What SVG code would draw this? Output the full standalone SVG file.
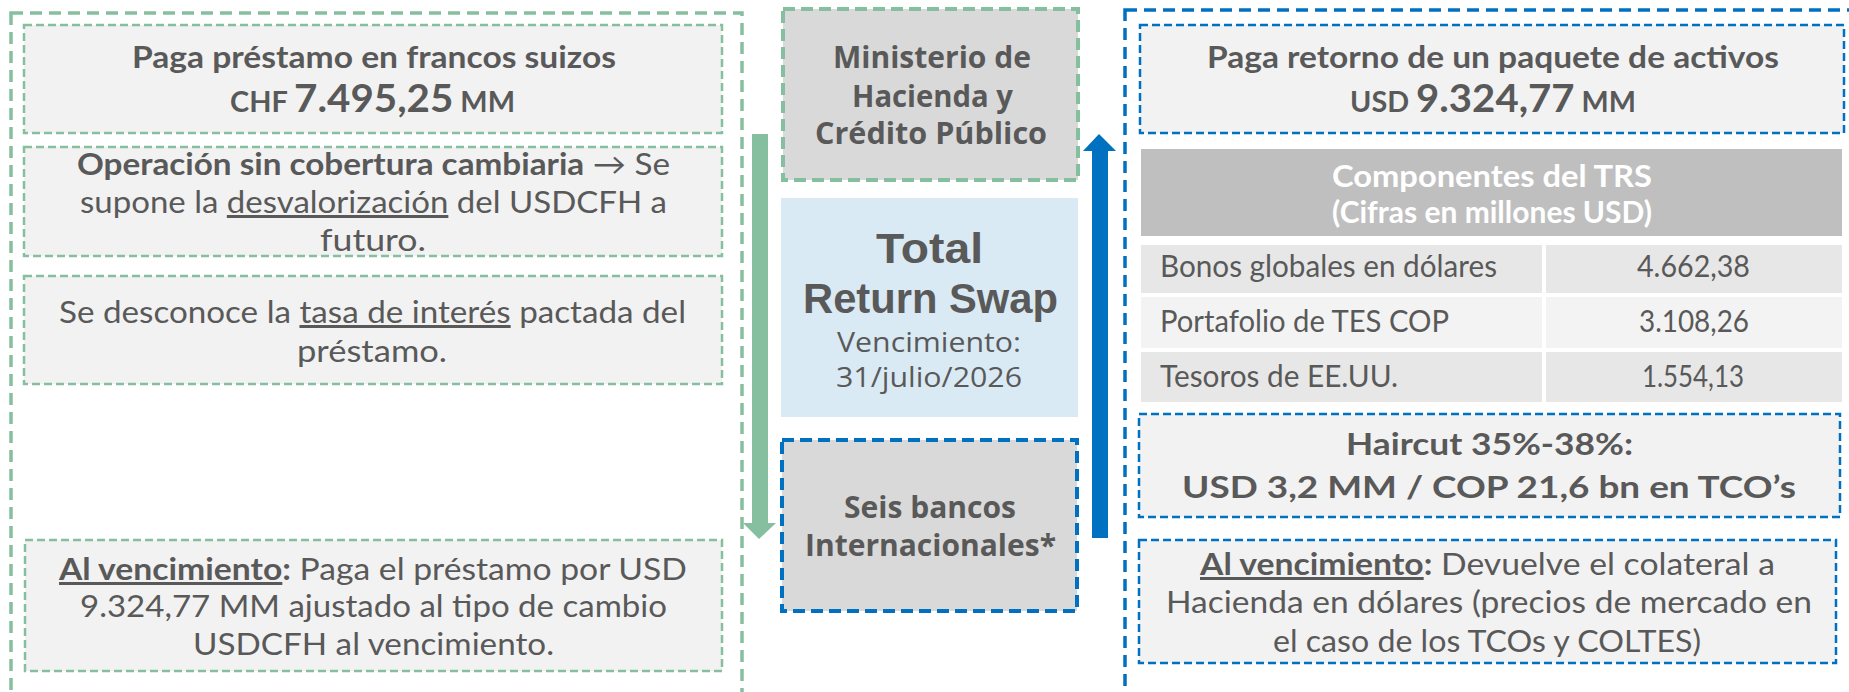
<svg xmlns="http://www.w3.org/2000/svg" width="1849" height="692" viewBox="0 0 1849 692">
<style>
.t{fill:#595959;font-family:Lato,"Noto Sans","Liberation Sans",sans-serif;font-size:30px}
.m{fill:#595959;font-family:"Open Sans","Noto Sans","Liberation Sans",sans-serif;font-weight:700}
.big{fill:#595959;font-family:"Liberation Sans",Arial,sans-serif;font-weight:700;font-size:43px}
.r{font-weight:400}
.b{font-weight:700}
.u{text-decoration:underline}
.w{fill:#ffffff}
.box{fill:#f2f2f2}
.gIn{stroke:#86bf9f;stroke-width:2.5;stroke-dasharray:8 4}
.bIn{stroke:#0070c0;stroke-width:2.5;stroke-dasharray:8 4}
.gOut{fill:none;stroke:#86bf9f;stroke-width:3.5;stroke-dasharray:12 7}
.bOut{fill:none;stroke:#0070c0;stroke-width:3.5;stroke-dasharray:12 7}
</style>
<g id="outer-left"><rect class="gOut" x="11" y="13" width="731" height="700"/></g>
<g id="outer-right"><rect class="bOut" x="1125" y="10" width="740" height="700"/></g>

<g id="left-pago-chf">
<rect class="box gIn" x="24" y="25" width="698" height="108"/>
<text class="t b" x="132" y="68" textLength="484" lengthAdjust="spacingAndGlyphs">Paga préstamo en francos suizos</text>
<text class="t b" x="230" y="112" textLength="285" lengthAdjust="spacingAndGlyphs"><tspan font-size="28">CHF </tspan><tspan font-size="39">7.495,25</tspan><tspan font-size="28"> MM</tspan></text>
</g>
<g id="left-cobertura">
<rect class="box gIn" x="24" y="147" width="698" height="109"/>
<text class="t" x="77" y="175" textLength="593" lengthAdjust="spacingAndGlyphs"><tspan class="b">Operación sin cobertura cambiaria</tspan> → Se</text>
<text class="t" x="80" y="213" textLength="587" lengthAdjust="spacingAndGlyphs">supone la <tspan class="u">desvalorización</tspan> del USDCFH a</text>
<text class="t" x="320" y="251" textLength="106" lengthAdjust="spacingAndGlyphs">futuro.</text>
</g>
<g id="left-tasa">
<rect class="box gIn" x="24" y="276" width="698" height="108"/>
<text class="t" x="59" y="323" textLength="627" lengthAdjust="spacingAndGlyphs">Se desconoce la <tspan class="u">tasa de interés</tspan> pactada del</text>
<text class="t" x="297" y="362" textLength="150" lengthAdjust="spacingAndGlyphs">préstamo.</text>
</g>
<g id="left-vencimiento">
<rect class="box gIn" x="25" y="540" width="697" height="131"/>
<text class="t" x="59" y="580" textLength="628" lengthAdjust="spacingAndGlyphs"><tspan class="b"><tspan class="u">Al vencimiento</tspan>:</tspan> Paga el préstamo por USD</text>
<text class="t" x="80" y="617" textLength="587" lengthAdjust="spacingAndGlyphs">9.324,77 MM ajustado al tipo de cambio</text>
<text class="t" x="193" y="655" textLength="361" lengthAdjust="spacingAndGlyphs">USDCFH al vencimiento.</text>
</g>

<g id="ministerio">
<rect x="783" y="9" width="295" height="171" fill="#d9d9d9" stroke="#86bf9f" stroke-width="4" stroke-dasharray="12 6"/>
<text class="m" font-size="30" x="833" y="68" textLength="198" lengthAdjust="spacingAndGlyphs">Ministerio de</text>
<text class="m" font-size="30" x="852" y="107" textLength="161" lengthAdjust="spacingAndGlyphs">Hacienda y</text>
<text class="m" font-size="30" x="815" y="144" textLength="232" lengthAdjust="spacingAndGlyphs">Crédito Público</text>
</g>
<g id="trs">
<rect x="781" y="198" width="297" height="219" fill="#daeaf4"/>
<text class="big" x="876" y="263" textLength="107" lengthAdjust="spacingAndGlyphs">Total</text>
<text class="big" x="803" y="313" textLength="255" lengthAdjust="spacingAndGlyphs">Return Swap</text>
<text class="m r" font-size="27" x="837" y="352" textLength="184" lengthAdjust="spacingAndGlyphs">Vencimiento:</text>
<text class="m r" font-size="27" x="836" y="387" textLength="186" lengthAdjust="spacingAndGlyphs">31/julio/2026</text>
</g>
<g id="bancos">
<rect x="782" y="440" width="295" height="171" fill="#d9d9d9" stroke="#0070c0" stroke-width="4" stroke-dasharray="12 6"/>
<text class="m" font-size="30" x="844" y="518" textLength="172" lengthAdjust="spacingAndGlyphs">Seis bancos</text>
<text class="m" font-size="30" x="805" y="556" textLength="251" lengthAdjust="spacingAndGlyphs">Internacionales*</text>
</g>

<g id="connectors">
<path d="M752,134 H768 V523 H776 L759,539 L743,523 H752 Z" fill="#86bf9f"/>
<path d="M1092,538 H1108 V151 H1116 L1099,134 L1083,151 H1092 Z" fill="#0070c0"/>
</g>

<g id="right-pago-usd">
<rect class="box bIn" x="1140" y="25" width="704" height="108"/>
<text class="t b" x="1207" y="68" textLength="572" lengthAdjust="spacingAndGlyphs">Paga retorno de un paquete de activos</text>
<text class="t b" x="1350" y="112" textLength="286" lengthAdjust="spacingAndGlyphs"><tspan font-size="28">USD </tspan><tspan font-size="39">9.324,77</tspan><tspan font-size="28"> MM</tspan></text>
</g>
<g id="tabla-trs">
<rect x="1141" y="149" width="701" height="87" fill="#bfbfbf"/>
<text class="t b w" x="1332" y="187" textLength="320" lengthAdjust="spacingAndGlyphs">Componentes del TRS</text>
<text class="t b w" x="1332" y="223" textLength="320" lengthAdjust="spacingAndGlyphs">(Cifras en millones USD)</text>
<rect x="1141" y="245" width="401" height="48" fill="#e7e7e7"/>
<rect x="1546" y="245" width="296" height="48" fill="#e7e7e7"/>
<rect x="1141" y="297" width="401" height="51" fill="#f3f3f3"/>
<rect x="1546" y="297" width="296" height="51" fill="#f3f3f3"/>
<rect x="1141" y="352" width="401" height="50" fill="#e7e7e7"/>
<rect x="1546" y="352" width="296" height="50" fill="#e7e7e7"/>
<text class="t" font-size="27" x="1160" y="277" textLength="337" lengthAdjust="spacingAndGlyphs">Bonos globales en dólares</text>
<text class="t" font-size="27" x="1637" y="277" textLength="113" lengthAdjust="spacingAndGlyphs">4.662,38</text>
<text class="t" font-size="27" x="1160" y="332" textLength="289" lengthAdjust="spacingAndGlyphs">Portafolio de TES COP</text>
<text class="t" font-size="27" x="1639" y="332" textLength="110" lengthAdjust="spacingAndGlyphs">3.108,26</text>
<text class="t" font-size="27" x="1160" y="387" textLength="238" lengthAdjust="spacingAndGlyphs">Tesoros de EE.UU.</text>
<text class="t" font-size="27" x="1642" y="387" textLength="102" lengthAdjust="spacingAndGlyphs">1.554,13</text>
</g>
<g id="haircut">
<rect class="box bIn" x="1139" y="414" width="701" height="103"/>
<text class="t b" x="1346" y="455" textLength="287" lengthAdjust="spacingAndGlyphs">Haircut 35%-38%:</text>
<text class="t b" font-size="34" x="1182" y="498" textLength="614" lengthAdjust="spacingAndGlyphs">USD 3,2 MM / COP 21,6 bn en TCO’s</text>
</g>
<g id="right-vencimiento">
<rect class="box bIn" x="1139" y="540" width="697" height="123"/>
<text class="t" x="1200" y="575" textLength="575" lengthAdjust="spacingAndGlyphs"><tspan class="b"><tspan class="u">Al vencimiento</tspan>:</tspan> Devuelve el colateral a</text>
<text class="t" x="1166" y="613" textLength="646" lengthAdjust="spacingAndGlyphs">Hacienda en dólares (precios de mercado  en</text>
<text class="t" x="1273" y="652" textLength="428" lengthAdjust="spacingAndGlyphs">el caso de los TCOs y COLTES)</text>
</g>
</svg>
